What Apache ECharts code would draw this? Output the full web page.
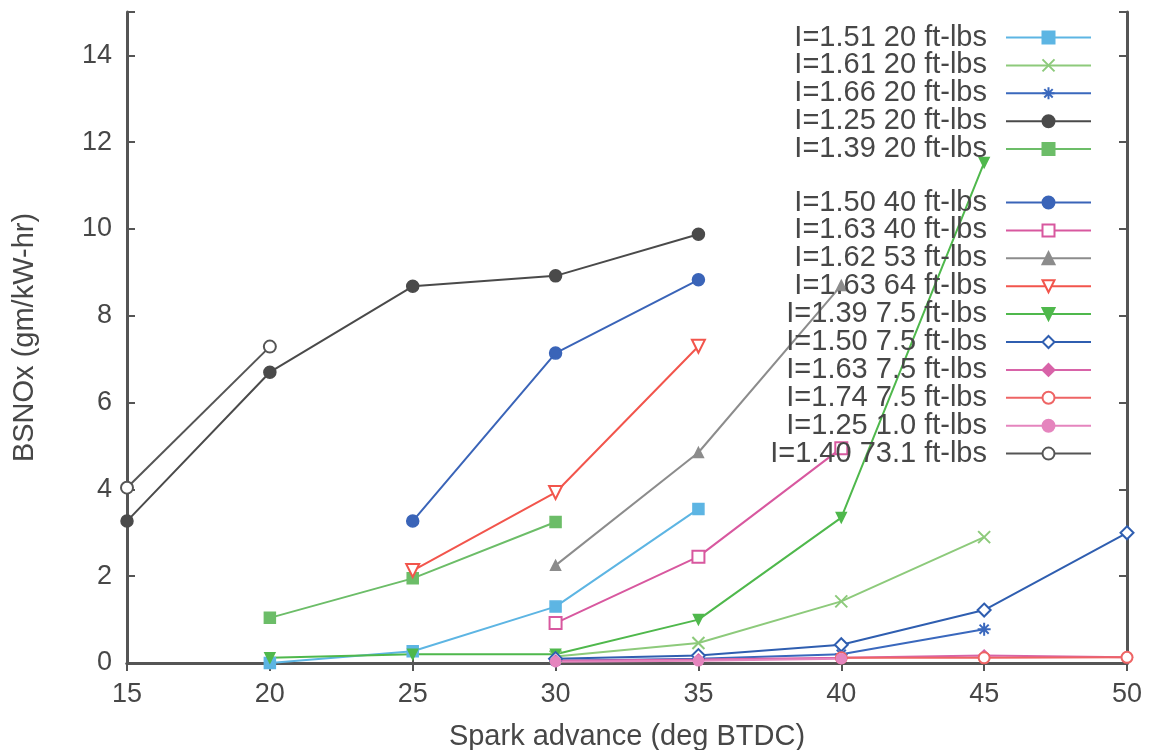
<!DOCTYPE html>
<html>
<head>
<meta charset="utf-8">
<script src="https://cdn.jsdelivr.net/npm/echarts@6/dist/echarts.min.js"></script>
<style>html,body{margin:0;padding:0;background:#fff}#c{width:1155px;height:750px}</style>
</head>
<body>
<div id="c"></div>
<script>
// ---- data ----
const xTicks = [15, 20, 25, 30, 35, 40, 45, 50];
const yTicks = [0, 2, 4, 6, 8, 10, 12, 14];
const namesGroup1 = ['I=1.51 20 ft-lbs', 'I=1.61 20 ft-lbs', 'I=1.66 20 ft-lbs', 'I=1.25 20 ft-lbs', 'I=1.39 20 ft-lbs'];
const namesGroup2 = ['I=1.50 40 ft-lbs', 'I=1.63 40 ft-lbs', 'I=1.62 53 ft-lbs', 'I=1.63 64 ft-lbs', 'I=1.39 7.5 ft-lbs',
  'I=1.50 7.5 ft-lbs', 'I=1.63 7.5 ft-lbs', 'I=1.74 7.5 ft-lbs', 'I=1.25 1.0 ft-lbs', 'I=1.40 73.1 ft-lbs'];

const d151_20 = [[20, 0.0], [25, 0.27], [30, 1.3], [35, 3.55]];
const d161_20 = [[30, 0.15], [35, 0.46], [40, 1.42], [45, 2.9]];
const d166_20 = [[30, 0.05], [35, 0.1], [40, 0.2], [45, 0.78]];
const d125_20 = [[15, 3.27], [20, 6.7], [25, 8.68], [30, 8.92], [35, 9.88]];
const d139_20 = [[20, 1.04], [25, 1.95], [30, 3.25]];
const d150_40 = [[25, 3.27], [30, 7.14], [35, 8.83]];
const d163_40 = [[30, 0.92], [35, 2.45], [40, 4.95]];
const d162_53 = [[30, 2.25], [35, 4.85], [40, 8.7]];
const d163_64 = [[25, 2.13], [30, 3.93], [35, 7.3]];
const d139_75 = [[20, 0.12], [25, 0.2], [30, 0.2], [35, 1.0], [40, 3.35], [45, 11.53]];
const d150_75 = [[30, 0.1], [35, 0.17], [40, 0.42], [45, 1.22], [50, 3.0]];
const d163_75 = [[30, 0.05], [35, 0.08], [40, 0.12], [45, 0.17], [50, 0.13]];
const d174_75 = [[40, 0.12], [45, 0.12], [50, 0.13]];
const d125_10 = [[30, 0.03], [35, 0.05], [40, 0.1]];
const d140_731 = [[15, 4.04], [20, 7.29]];

const X_PATH = 'path://M0,0L10,10M10,0L0,10';
const STAR_PATH = 'path://M5,0L5,10M0,5L10,5M1.5,1.5L8.5,8.5M8.5,1.5L1.5,8.5';

function mk(name, data, color, symbol, opts) {
  opts = opts || {};
  return {
    name: name, type: 'line', data: data,
    symbol: symbol, symbolSize: opts.size || 10,
    symbolRotate: opts.rotate || 0,
    showAllSymbol: true,
    lineStyle: { color: color, width: opts.lw || 2 },
    itemStyle: { color: color, borderColor: color, borderWidth: opts.bw || 1.5 },
    emphasis: { disabled: true },
    animation: false,
    z: 3
  };
}

const series = [
  mk(namesGroup1[0], d151_20, '#5db5e3', 'rect', { size: 11 }),
  mk(namesGroup1[1], d161_20, '#8dca7b', X_PATH, { size: 12, bw: 2 }),
  mk(namesGroup1[2], d166_20, '#3a68bd', STAR_PATH, { size: 13, bw: 2 }),
  mk(namesGroup1[3], d125_20, '#4a4a4a', 'circle', { size: 12 }),
  mk(namesGroup1[4], d139_20, '#6cbd68', 'rect', { size: 11 }),
  mk(namesGroup2[0], d150_40, '#3a64b8', 'circle', { size: 12 }),
  mk(namesGroup2[1], d163_40, '#d8589f', 'emptyRect', { size: 12, bw: 2 }),
  mk(namesGroup2[2], d162_53, '#8c8c8c', 'triangle', { size: 10 }),
  mk(namesGroup2[3], d163_64, '#f2554c', 'emptyTriangle', { size: 13, rotate: 180, bw: 2 }),
  mk(namesGroup2[4], d139_75, '#4fb84c', 'triangle', { size: 10, rotate: 180 }),
  mk(namesGroup2[5], d150_75, '#2f5eb0', 'emptyDiamond', { size: 13, bw: 2 }),
  mk(namesGroup2[6], d163_75, '#d863a8', 'diamond', { size: 11 }),
  mk(namesGroup2[7], d174_75, '#ee6464', 'emptyCircle', { size: 11, bw: 2 }),
  mk(namesGroup2[8], d125_10, '#e585be', 'circle', { size: 10 }),
  mk(namesGroup2[9], d140_731, '#555555', 'emptyCircle', { size: 12, bw: 2 })
];

const FONT = 'Liberation Sans';
const TXT = '#474747';
const AX = '#555555';

const legendBase = {
  orient: 'vertical',
  align: 'right',
  right: 58,
  itemWidth: 85,
  itemHeight: 15,
  itemGap: -1.1,
  textStyle: { fontFamily: FONT, fontSize: 29, color: TXT, lineHeight: 27.65, padding: [0, 14, 0, 0] },
  selectedMode: false,
  backgroundColor: 'transparent'
};

const option = {
  backgroundColor: '#fff',
  animation: false,
  grid: { left: 127, right: 28, top: 12, bottom: 87, containLabel: false, outerBoundsMode: 'none' },
  legend: [
    Object.assign({}, legendBase, { top: 18, data: namesGroup1 }),
    Object.assign({}, legendBase, { top: 183, data: namesGroup2 })
  ],
  xAxis: [
    {
      type: 'value', min: xTicks[0], max: xTicks[xTicks.length - 1], interval: 5, position: 'bottom',
      name: 'Spark advance (deg BTDC)', nameLocation: 'middle', nameGap: 59,
      nameTextStyle: { fontFamily: FONT, fontSize: 29, color: TXT },
      axisLine: { lineStyle: { color: AX, width: 3 } },
      axisTick: { inside: true, length: 8, lineStyle: { color: AX, width: 2 } },
      axisLabel: { fontFamily: FONT, fontSize: 27, color: TXT, margin: 18 },
      splitLine: { show: false }
    },
    {
      type: 'value', min: xTicks[0], max: xTicks[xTicks.length - 1], interval: 5, position: 'top',
      axisLine: { lineStyle: { color: AX, width: 3 } },
      axisTick: { inside: true, length: 8, lineStyle: { color: AX, width: 2 } },
      axisLabel: { show: false },
      splitLine: { show: false }
    }
  ],
  yAxis: [
    {
      type: 'value', min: 0, max: 15, interval: 2, position: 'left',
      name: 'BSNOx (gm/kW-hr)', nameLocation: 'middle', nameGap: 88,
      nameTextStyle: { fontFamily: FONT, fontSize: 29, color: TXT },
      axisLine: { lineStyle: { color: AX, width: 3 } },
      axisTick: { inside: true, length: 8, lineStyle: { color: AX, width: 2 } },
      axisLabel: {
        fontFamily: FONT, fontSize: 27, color: TXT, margin: 15,
        formatter: function (v) { return yTicks.indexOf(v) >= 0 ? String(v) : ''; }
      },
      splitLine: { show: false }
    },
    {
      type: 'value', min: 0, max: 15, interval: 2, position: 'right',
      axisLine: { lineStyle: { color: AX, width: 3 } },
      axisTick: { inside: true, length: 8, lineStyle: { color: AX, width: 2 } },
      axisLabel: { show: false },
      splitLine: { show: false }
    }
  ],
  series: series
};

const chart = echarts.init(document.getElementById('c'), null, { renderer: 'canvas' });
chart.setOption(option);
</script>
</body>
</html>
